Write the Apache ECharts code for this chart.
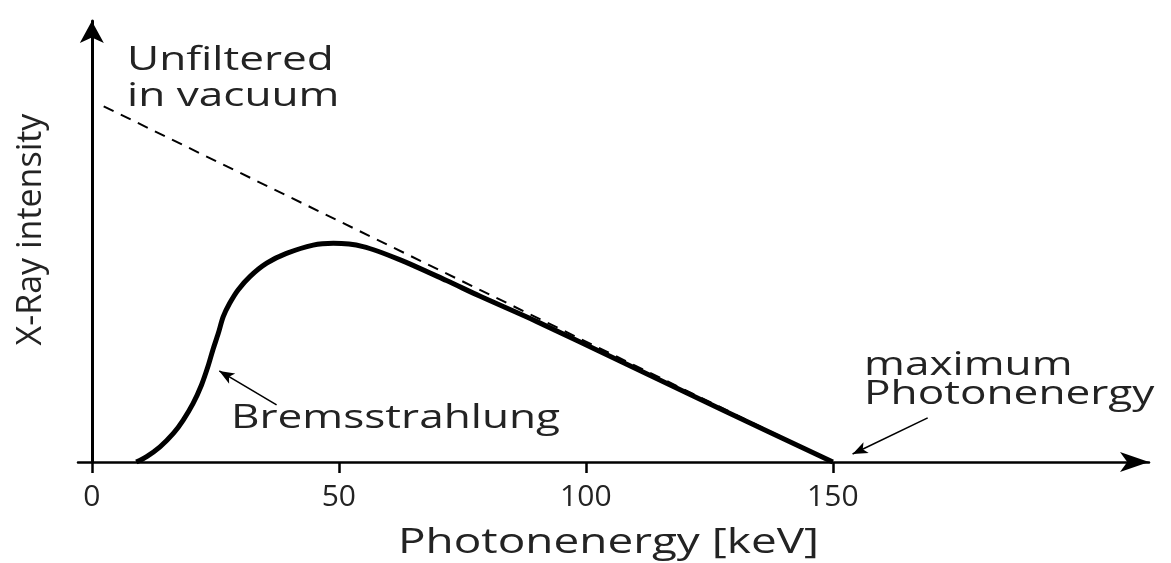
<!DOCTYPE html>
<html>
<head>
<meta charset="utf-8">
<script src="https://cdn.jsdelivr.net/npm/echarts@6/dist/echarts.min.js"></script>
<style>
  html, body { margin: 0; padding: 0; background: #fff; }
  #graph { width: 1171px; height: 563px; }
</style>
</head>
<body>
<div id="graph"></div>
<script>
// bremsstrahlung spectrum (keV, relative intensity)
const energy    = [9.0, 11.1, 13.8, 16.5, 18.5, 20.5, 22.2, 23.5, 24.5, 25.6, 26.6, 27.9, 29.6, 32.0, 35.4, 39.4, 44.8, 48.9, 54.9, 62.3, 71.8, 78.5, 90, 107, 128, 150];
const intensity = [0,   1.5,  4.2,  7.9,  11.6, 16.2, 21.3, 26.4, 31.0, 35.6, 40.2, 43.9, 47.6, 51.3, 55.0, 57.7, 60.0, 60.5, 59.6, 56.0, 50.2, 45.9, 38.9, 27.9, 14.2, 0];

// unfiltered spectrum in vacuum (straight line)
const vacuumEnergy    = [2.4, 150];
const vacuumIntensity = [98.4, 0];

const tickValues = [0, 50, 100, 150];

const xName = 'Photonenergy [keV]';
const yName = 'X-Ray intensity';

// annotation arrows: [from, to] in data coords
const bremsArrow = [[37.4, 15.8], [25.8, 25.2]];
const maxArrow   = [[169.2, 12.2], [154.0, 2.2]];

const textColor = '#232323';
const font = '"Open Sans", "Noto Sans", sans-serif';

const pair = (xs, ys) => xs.map((x, i) => [x, ys[i]]);

var myChart = echarts.init(document.getElementById('graph'));

myChart.setOption({
  animation: false,
  grid: { left: 78, right: 22, top: 21, bottom: 101 },
  xAxis: {
    type: 'value',
    min: -2.8,
    max: 214,
    axisLine: {
      onZero: true,
      symbol: ['none', 'arrow'],
      symbolSize: [15, 29],
      lineStyle: { color: '#000', width: 2.5 }
    },
    axisTick: {
      show: true,
      customValues: tickValues,
      length: 11,
      lineStyle: { color: '#000', width: 2.5 }
    },
    axisLabel: {
      customValues: tickValues,
      margin: 20,
      fontSize: 30,
      fontFamily: font,
      color: textColor
    },
    splitLine: { show: false }
  },
  yAxis: {
    type: 'value',
    min: 0,
    max: 122,
    name: yName,
    nameLocation: 'middle',
    nameRotate: 90,
    nameGap: 30,
    nameTextStyle: {
      fontSize: 34,
      fontFamily: font,
      color: textColor,
      padding: [0, 0, 0, 24]
    },
    axisLine: {
      show: true,
      onZero: true,
      symbol: ['none', 'arrow'],
      symbolSize: [18, 22],
      lineStyle: { color: '#000', width: 3 }
    },
    axisTick: { show: false },
    axisLabel: { show: false },
    splitLine: { show: false }
  },
  graphic: [
    {
      type: 'text', x: 127, y: 43, scaleX: 1.38,
      style: { text: 'Unfiltered\nin vacuum', font: '32px ' + font, fill: textColor, lineHeight: 36, verticalAlign: 'top' }
    },
    {
      type: 'text', x: 231, y: 401, scaleX: 1.38,
      style: { text: 'Bremsstrahlung', font: '32px ' + font, fill: textColor, lineHeight: 36, verticalAlign: 'top' }
    },
    {
      type: 'text', x: 864, y: 351, scaleX: 1.38,
      style: { text: 'maximum\nPhotonenergy', font: '32px ' + font, fill: textColor, lineHeight: 29, verticalAlign: 'top' }
    },
    {
      type: 'text', x: 398, y: 523, scaleX: 1.35,
      style: { text: xName, font: '34px ' + font, fill: textColor, lineHeight: 40, verticalAlign: 'top' }
    }
  ],
  series: [
    {
      name: 'Unfiltered in vacuum',
      type: 'line',
      data: pair(vacuumEnergy, vacuumIntensity),
      showSymbol: false,
      lineStyle: { color: '#000', width: 2, type: [11, 8] },
      z: 2
    },
    {
      name: 'Bremsstrahlung',
      type: 'line',
      data: pair(energy, intensity),
      smooth: 0.3,
      showSymbol: false,
      lineStyle: { color: '#000', width: 5 },
      z: 3,
      markLine: {
        silent: true,
        symbol: ['none', 'arrow'],
        symbolSize: [9, 15],
        label: { show: false },
        lineStyle: { color: '#000', width: 1.6, type: 'solid' },
        data: [
          [{ coord: bremsArrow[0] }, { coord: bremsArrow[1] }],
          [{ coord: maxArrow[0] }, { coord: maxArrow[1] }]
        ]
      }
    }
  ]
});
</script>
</body>
</html>
